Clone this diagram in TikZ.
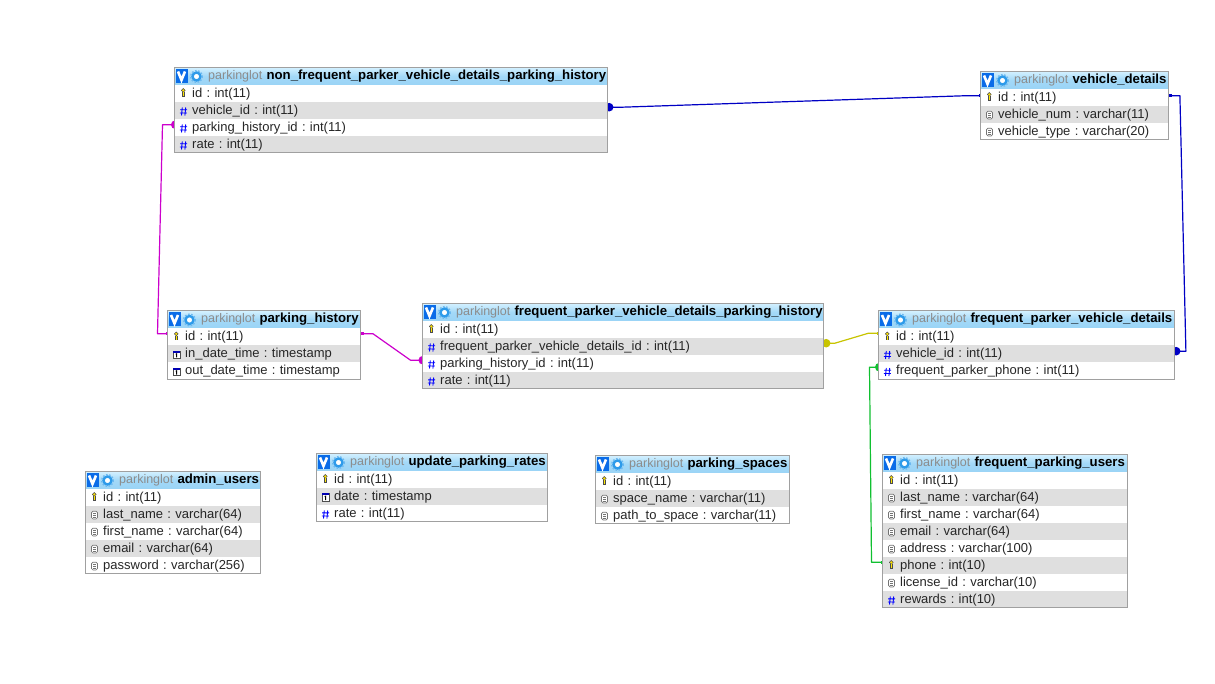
\documentclass[tikz,border=0pt]{standalone}
\usepackage{fontspec}
\setmainfont{Liberation Sans}
\usetikzlibrary{arrows.meta,calc}
\definecolor{framec}{HTML}{A0A0A0}
\definecolor{rowgrey}{HTML}{DFDFDF}
\definecolor{hdrtop}{HTML}{D2F0FF}
\definecolor{hdrbot}{HTML}{9AD4F6}
\definecolor{vblue}{HTML}{0A6CE8}
\definecolor{gearblue}{HTML}{2E9BEA}
\definecolor{pkgrey}{HTML}{8C8C8C}
\definecolor{rowtext}{HTML}{262626}
\definecolor{cblue}{HTML}{0000C4}
\definecolor{cmag}{HTML}{CC00CC}
\definecolor{cyel}{HTML}{C8C400}
\definecolor{cgreen}{HTML}{10C030}
\pgfdeclarelayer{connlayer}
\pgfsetlayers{connlayer,main}
\frenchspacing
\tikzset{
  x=1pt,y=-1pt,
  hdrbox/.style={anchor=north west,inner xsep=0pt,inner ysep=0pt,minimum height=17pt,
    top color=hdrtop,bottom color=hdrbot,middle color=hdrbot!85!hdrtop,align=left,
    text height=9.5pt,text depth=3pt,font=\fontsize{12.5}{14}\selectfont},
  rowbox/.style={anchor=north west,inner xsep=0pt,inner ysep=0pt,minimum height=17pt,
    align=left,text height=10pt,text depth=2pt,text=rowtext,font=\fontsize{13}{14}\selectfont},
  frameline/.style={draw=framec,line width=1pt},
  conn/.style={line width=1.2pt,line join=round},
  dot/.style={{Circle[length=8.5pt,width=8.5pt]}-{Square[length=2pt,width=3pt]},shorten <=-#1},
  sqdot/.style={{Square[length=3.5pt,width=3.5pt]}-{Circle[length=8.5pt,width=8.5pt]},shorten >=-#1},
  dotsq/.style={{Circle[length=8.5pt,width=8.5pt]}-{Square[length=3.5pt,width=3.5pt]},shorten <=-#1},
}
% row icons, drawn about the row centre
\newcommand\iconK{%
  \draw[draw=black!70,fill=yellow!85!orange,line width=.5pt] (-.2,-2.6) circle[radius=1.9];
  \draw[black!70,line width=2.2pt] (0,-.8) -- (0,3.6);
  \draw[yellow!90!orange,line width=1.1pt] (0,-.8) -- (0,3.3);}
\newcommand\iconN{%
  \draw[blue,line width=.9pt] (-1.2,-2.5) -- (-2,5.5) (2.2,-2.5) -- (1.4,5.5)
    (-3.4,-.2) -- (3.6,-.2) (-3.6,3) -- (3.4,3);}
\newcommand\iconF{%
  \draw[draw=black!55,fill=white,line width=.7pt,rounded corners=1.5pt] (-3,-2.8) rectangle (3,5);
  \draw[black!55,line width=.5pt] (-1.5,-.8) -- (1.5,-.8) (-1.5,1) -- (1.5,1) (-1.5,2.9) -- (1.5,2.9);}
\newcommand\iconT{%
  \draw[draw=black!70,fill=white,line width=.6pt] (-3.3,-2.4) rectangle (3.3,5);
  \fill[blue!70!black] (-3.3,-2.6) rectangle (3.3,-.9);
  \draw[black,line width=.8pt] (-.8,.8) -- (.1,.2) -- (.1,4);}
% table: name, x1, y-top, x2, title, rows (icon/text)
\newcommand\erdtable[6]{%
  \pgfmathsetmacro\tw{#4-#2}%
  \node[hdrbox,text width=\tw pt,minimum width=\tw pt] (#1-h) at (#2,#3)
    {\mbox{\hspace*{33.5pt}{\color{pkgrey}parkinglot} {\fontsize{13.2}{14}\selectfont\bfseries\textcolor{black}{#5}}}};
  \fill[vblue] (#2+1,#3+1.5) rectangle (#2+13,#3+15.5);
  \draw[white,line width=2.6pt] (#2+3.5,#3+4) -- (#2+7,#3+12.5) -- (#2+10.5,#3+4);
  \draw[gearblue,line width=2.4pt,fill=white] (#2+22,#3+9) circle[radius=4];
  \draw[gearblue!70,line width=1.4pt,dash pattern=on 1.6pt off 1.6pt] (#2+22,#3+9) circle[radius=5.8];
  \def\lastrow{0}%
  \foreach \ic/\tx [count=\i] in {#6}{%
    \ifodd\i \def\rowfill{white}\else \def\rowfill{rowgrey}\fi
    \node[rowbox,fill=\rowfill,text width=\tw pt,minimum width=\tw pt] (#1-\i)
       at (#2,#3+17*\i) {\hspace*{17.5pt}\tx};
    \begin{scope}[shift={(#2+9,#3+17*\i+8.5)}]\csname icon\ic\endcsname\end{scope}
    \xdef\lastrow{\i}%
  }%
  \draw[frameline] (#1-h.north west) rectangle (#1-\lastrow.south east);
}
\begin{document}
\begin{tikzpicture}
\useasboundingbox (0,0) rectangle (1215,684);
\begin{pgfonlayer}{connlayer}
\fill[white] (0,0) rectangle (1215,684);
\end{pgfonlayer}

\erdtable{nf}{174.5}{67.5}{607.5}{non\_frequent\_parker\_vehicle\_details\_parking\_history}
  {K/id : int(11),N/vehicle\_id : int(11),N/parking\_history\_id : int(11),N/rate : int(11)}
\erdtable{vd}{980.5}{71.5}{1168.5}{vehicle\_details}
  {K/id : int(11),F/vehicle\_num : varchar(11),F/vehicle\_type : varchar(20)}
\erdtable{ph}{167.5}{311}{360.5}{parking\_history}
  {K/id : int(11),T/in\_date\_time : timestamp,T/out\_date\_time : timestamp}
\erdtable{fh}{422.5}{303.5}{823.5}{frequent\_parker\_vehicle\_details\_parking\_history}
  {K/id : int(11),N/frequent\_parker\_vehicle\_details\_id : int(11),N/parking\_history\_id : int(11),N/rate : int(11)}
\erdtable{fd}{878.5}{311}{1174.5}{frequent\_parker\_vehicle\_details}
  {K/id : int(11),N/vehicle\_id : int(11),N/frequent\_parker\_phone : int(11)}
\erdtable{au}{85.5}{471.5}{260.5}{admin\_users}
  {K/id : int(11),F/last\_name : varchar(64),F/first\_name : varchar(64),F/email : varchar(64),F/password : varchar(256)}
\erdtable{ur}{316.5}{453.5}{547.5}{update\_parking\_rates}
  {K/id : int(11),T/date : timestamp,N/rate : int(11)}
\erdtable{ps}{595.5}{455.5}{789.5}{parking\_spaces}
  {K/id : int(11),F/space\_name : varchar(11),F/path\_to\_space : varchar(11)}
\erdtable{fu}{882.5}{454.5}{1127.5}{frequent\_parking\_users}
  {K/id : int(11),F/last\_name : varchar(64),F/first\_name : varchar(64),F/email : varchar(64),F/address : varchar(100),K/phone : int(10),F/license\_id : varchar(10),N/rewards : int(10)}

\coordinate (a1) at ([yshift=3pt]nf-2.east);
\coordinate (b1) at ([yshift=1.5pt]vd-1.west);
\coordinate (a2) at ([yshift=1.5pt]vd-1.east);
\coordinate (b2) at ([yshift=2.5pt]fd-2.east);
\coordinate (a3) at ([yshift=2.5pt]nf-3.west);
\coordinate (b3) at ([yshift=3pt]ph-1.west);
\coordinate (a4) at ([yshift=3pt]ph-1.east);
\coordinate (b4) at ([yshift=3pt]fh-3.west);
\coordinate (a5) at ([yshift=3pt]fh-2.east);
\coordinate (b5) at ([yshift=3.5pt]fd-1.west);
\coordinate (a6) at ([yshift=3.5pt]fd-3.west);
\coordinate (b6) at ([yshift=3pt]fu-6.west);

\begin{pgfonlayer}{connlayer}
\draw[conn,cblue,dot=3pt] (a1) -- ++(14,0) -- ([xshift=-14pt]b1) -- (b1);
\draw[conn,cblue,sqdot=3pt] (a2) -- ++(11,0) -- ([xshift=11pt]b2) -- (b2);
\draw[conn,cmag,dot=5pt] (a3) -- ++(-12,0) -- ([xshift=-10pt]b3) -- (b3);
\draw[conn,cmag,dotsq=4.5pt] (b4) -- ++(-12,0) -- ([xshift=12pt]a4) -- (a4);
\draw[conn,cyel,dot=2pt] (a5) -- ++(11,0) -- ([xshift=-10pt]b5) -- (b5);
\draw[conn,cgreen,dot=5pt] (a6) -- ++(-9,0) -- ([xshift=-11pt]b6) -- (b6);
\end{pgfonlayer}
\end{tikzpicture}
\end{document}
